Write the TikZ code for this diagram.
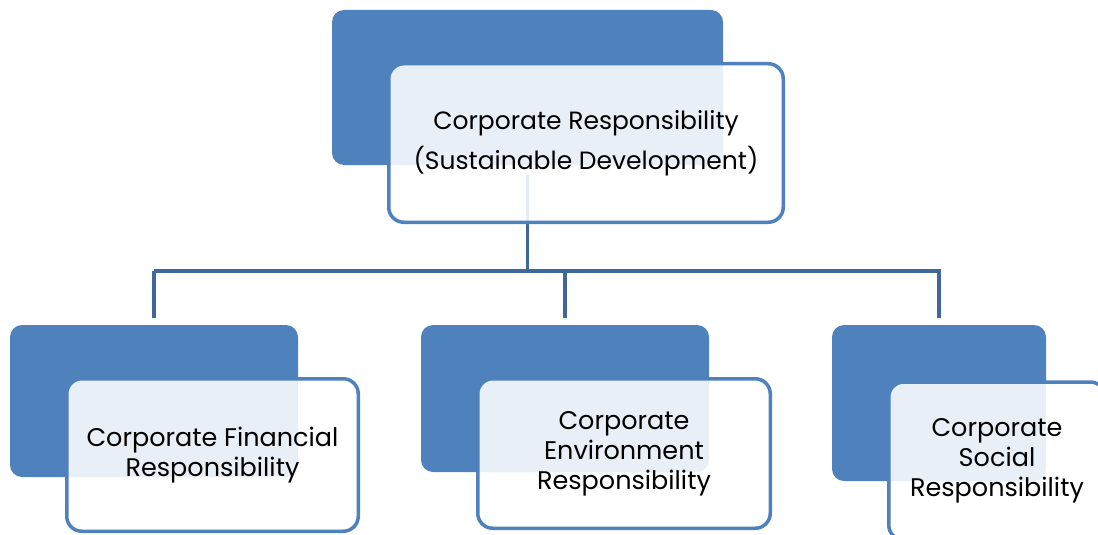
\documentclass[tikz,border=0pt]{standalone}
\usepackage{fontspec}
\setmainfont{Poppins}
\definecolor{accent}{HTML}{4F81BD}
\definecolor{linkblue}{HTML}{3F6797}

\begin{document}
\begin{tikzpicture}[x=1pt,y=-1pt,
    backbox/.style={fill=accent,draw=none,rounded corners=12pt,inner sep=0pt},
    textbox/.style={draw=accent,line width=3.5pt,fill=white,fill opacity=0.88,text opacity=1,
        rounded corners=15pt,inner sep=0pt,align=center,font=\fontsize{25.5}{30}\selectfont},
    link/.style={draw=linkblue,line width=3.5pt}]
    \useasboundingbox (0,0) rectangle (1098,535);
    % blue back panels
    \node[backbox,minimum width=391pt,minimum height=155pt] (topback) at (527.5,87.5) {};
    \node[backbox,minimum width=288pt,minimum height=152pt] (finback) at (154,401) {};
    \node[backbox,minimum width=288pt,minimum height=147pt] (envback) at (565,398.5) {};
    \node[backbox,minimum width=214pt,minimum height=156pt] (socback) at (939,403) {};
    % connectors
    \coordinate (bus) at (527.5,271);
    \draw[link,shorten <=10pt] (topback.south) -- (topback.south |- bus);
    \draw[link,shorten >=7pt] (finback.north |- bus) -- (socback.north |- bus) -- (socback.north);
    \draw[link,shorten >=7pt] (finback.north |- bus) -- (finback.north);
    \draw[link,shorten >=7pt] (envback.north |- bus) -- (envback.north);
    % front panels with text
    \node[textbox,minimum width=394.5pt,minimum height=158.5pt,font=\fontsize{25}{40}\selectfont] (top) at (586,143)
        {Corporate Responsibility\\(Sustainable Development)};
    \node[textbox,minimum width=291.5pt,minimum height=152.5pt] (fin) at (212.5,455)
        {Corporate Financial\\Responsibility};
    \node[textbox,minimum width=292.5pt,minimum height=149.5pt] (env) at (624,453.5)
        {Corporate\\Environment\\Responsibility};
    \node[textbox,minimum width=216.5pt,minimum height=158pt] (soc) at (997,461)
        {Corporate\\Social\\Responsibility};
\end{tikzpicture}
\end{document}
